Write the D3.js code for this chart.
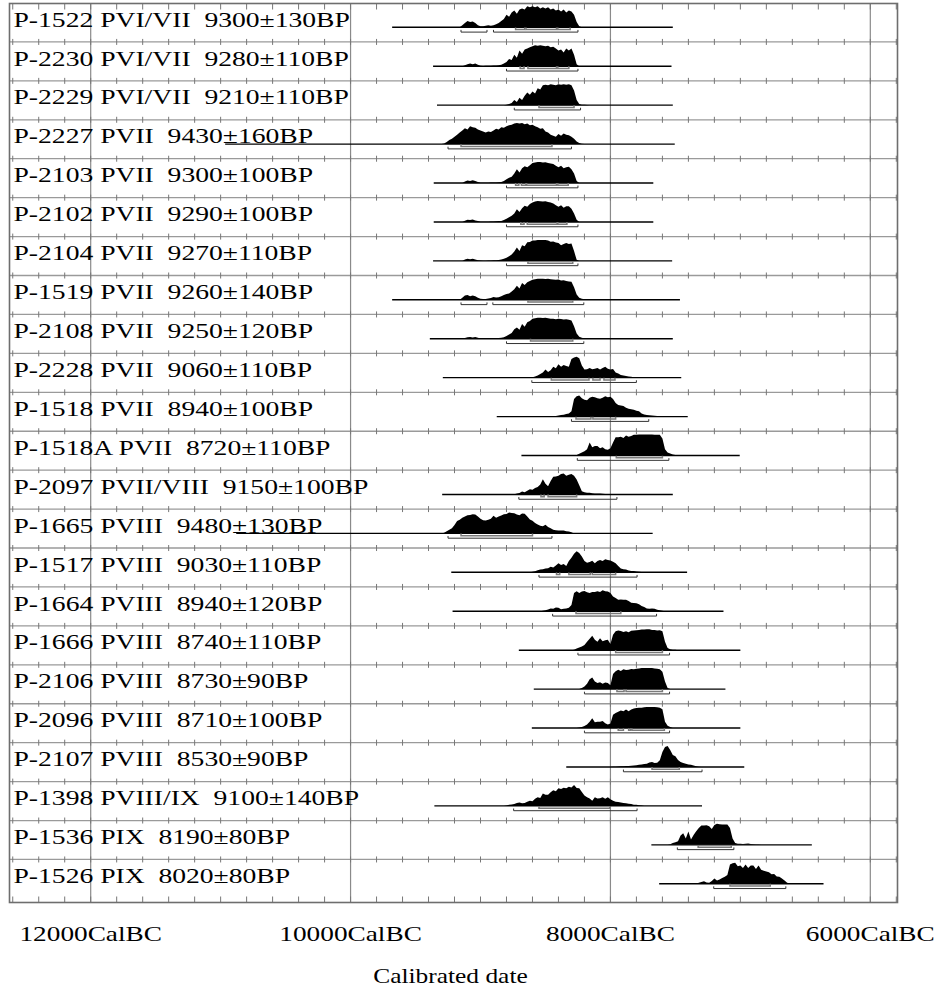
<!DOCTYPE html>
<html>
<head>
<meta charset="utf-8">
<script src="https://cdn.jsdelivr.net/npm/d3@7/dist/d3.min.js"></script>
<style>
    body { margin: 0; background: #fff; }
    text { font-family: "Liberation Serif", "Times New Roman", Times, serif; fill: #000; }
</style>
</head>
<body>
<div id="chart"></div>
<script>
// sample label, phase, BP date
var labels = [
    "P-1522 PVI/VII  9300\u00b1130BP",
    "P-2230 PVI/VII  9280\u00b1110BP",
    "P-2229 PVI/VII  9210\u00b1110BP",
    "P-2227 PVII  9430\u00b1160BP",
    "P-2103 PVII  9300\u00b1100BP",
    "P-2102 PVII  9290\u00b1100BP",
    "P-2104 PVII  9270\u00b1110BP",
    "P-1519 PVII  9260\u00b1140BP",
    "P-2108 PVII  9250\u00b1120BP",
    "P-2228 PVII  9060\u00b1110BP",
    "P-1518 PVII  8940\u00b1100BP",
    "P-1518A PVII  8720\u00b1110BP",
    "P-2097 PVII/VIII  9150\u00b1100BP",
    "P-1665 PVIII  9480\u00b1130BP",
    "P-1517 PVIII  9030\u00b1110BP",
    "P-1664 PVIII  8940\u00b1120BP",
    "P-1666 PVIII  8740\u00b1110BP",
    "P-2106 PVIII  8730\u00b190BP",
    "P-2096 PVIII  8710\u00b1100BP",
    "P-2107 PVIII  8530\u00b190BP",
    "P-1398 PVIII/IX  9100\u00b1140BP",
    "P-1536 PIX  8190\u00b180BP",
    "P-1526 PIX  8020\u00b180BP"
];

// extent of the plotted calibration line (cal BC)
var lineFrom = [9680, 9365, 9335, 10965, 9360, 9360, 9365, 9680, 9390, 9290, 8875, 8685,
                9295, 10880, 9225, 9215, 8705, 8590, 8605, 8340, 9355, 7685, 7625];
var lineTo = [7520, 7530, 7520, 7505, 7670, 7670, 7525, 7465, 7520, 7455, 7405, 7005,
              7520, 7675, 7410, 7130, 7000, 7115, 7000, 6970, 7295, 6450, 6360];

// first year of each probability curve, values every 20 years
var distStart = [9160, 9140, 8820, 9300, 9140, 9140, 9140, 9160, 9140, 8620, 8460, 8280,
                 8760, 9300, 8620, 8540, 8300, 8240, 8260, 8000, 8820, 7560, 7340];
var step = 20;

var p1522 = [0,2,4,6,5,5.5,4,2,1,1,1.5,2,1.5,2,3,4,6,8,12,10,14,16,13,17,18,17,20,19,20,19,20,18,19,18,19,17,18,16,17,15,17,14,16,15,12,5,1,0];
var p2230 = [0,1,2,2.5,2,2.5,1.5,0.5,0.3,0.5,0.5,0.5,0.7,0.8,1,1.5,2.5,4,7,6,11,8,15,12,16,17,18,19,20,19.5,20,19.5,19,19.5,18,18.5,17,15,16,13,17,15,17,11,2,0];
var p2229 = [0,0.5,1,2,5,3,7,5,9,12,10,13,11,16,15,19,19.5,19,20,19.5,19,20,19.5,20,19.5,20,19,14,5,1,0.3,0.3,0.2,0];
var p2227 = [0,0.5,2,4,5,7,9,11,13,15,14,17,16,15.5,14,13,12,11,12,11.5,13,14.5,14,16,15.5,17,18,18.5,19.5,20,19.5,20,19,19.5,18,18.5,17,16,14.5,15,12,11,9,8,7,9.5,8,10,9,8.5,7,5,2.5,1,0.3,0];
var p2103 = [0,1.5,2.5,2,2.7,2,1,0.3,0.2,0.3,0.3,0.5,0.5,0.6,0.8,1,2,3.5,5,6,9,13,10,14,16,15,17,19,19.5,20,20,19.5,19.7,19,18.5,18,16.5,15,16.5,14,15,15.5,13,9,2,0];
var p2102 = [0,1.2,2,1.8,2.3,1.5,0.8,0.3,0.2,0.2,0.3,0.4,0.5,0.6,0.8,1,1.8,3,4.5,6,8,12,9.5,13,15.5,14.5,17,18.5,19.5,20,19.8,19.5,19.8,19,18.5,17.5,16,14.5,16,13.5,15,15,12.5,8,2,0];
var p2104 = [0,1.2,2,1.5,2,1.2,0.5,0.3,0.2,0.2,0.3,0.4,0.5,0.6,0.8,1.2,2,3,4.5,6,9,12.7,9.5,15,14,17.7,18,19.3,19.5,20,20,19.8,20,19.5,18.3,18.5,17.5,17,15,16,17,16,16.5,9.3,1,0];
var p1519 = [0,2,4,4.7,3.5,4,3.5,2,1,0.8,0.8,1.2,1.8,2.7,2.2,2.5,3.5,4.5,5.5,6,8,10,13.3,10.7,16,14,16.7,18,19,19.5,20,20,20,19.8,20,19.5,19.3,19,19.3,18.5,18.7,18,17.5,17.3,12,5,2,1,0.5,0.3,0.3,0.2,0.2,0.2,0.1,0.1,0.1,0.1,0];
var p2108 = [0,0.8,1.5,1.7,1.3,1.6,1,0.3,0.2,0.2,0.3,0.4,0.5,0.6,0.8,1,1.5,2.5,4,5.5,9,10.7,8.5,14,11.5,15.7,17,19,19.5,20,20,19.8,20,19.5,19,19,18.5,19,18.7,18.3,18.5,18,17.3,12,5,2,1,0.3,0];
var p2228 = [0,0.5,1,2,3.5,5,7.7,5.5,7,10.3,9,12.7,10.5,12,11,10.5,17.7,19.3,20,18.5,11.7,7.7,8,9.3,8,8.5,9.3,7.7,9.3,10.3,8.5,7.7,8.3,5,4,2.5,2,1.5,1,0.8,0.5,0.3,0];
var p1518 = [0,0.3,0.5,1,1.5,1.7,2.5,3,5,16.7,19.3,20,17.5,16,15.5,18,19,18.5,17.5,17,18,19.5,18.5,19,16.7,13,11,10.5,10,8.5,7.5,7,6.5,5.5,5,3,2,1.5,1.2,1,0.8,0.5,0.3,0];
var p1518a = [0,0.5,1.7,3,4,6,12.3,8,9,9,7,8,6,5.5,7,12.3,17.3,17.5,18,16.7,19,18,18.5,19.7,19.8,20,20,20,20,20,20,19.8,19.8,19.7,16.3,6,3,2,1,0.5,0.2,0];
var p2097 = [0,0.3,1,1.3,2.7,2,3.5,5,4.5,6,7,9.3,14.3,10,7.7,12.7,16.7,17,17.7,19.3,19.8,17.7,18.5,19.3,17.7,14,8.7,3,2,1.7,1.5,1.2,1,1,0.8,0.6,0.5,0.4,0.3,0.2,0];
var p1665 = [0,0.5,2,3.5,5,8,11.7,13,15,16,17.3,17.5,18.3,18,16,14,12.5,12.3,13,14,16.7,15,16,17,18.3,18.5,20,19.5,19.3,18,17.3,19,18.7,16,13.3,12,10,8.5,7.3,6.7,8.3,6,5,3.5,3,2.7,2.7,2.7,2,1.7,1,0];
var p1517 = [0,0.5,1,2,2.7,3,3.7,4,5.3,4.7,6.5,8.7,7,8,6,11,14,18,20.3,18.7,15.3,11,9.3,10,11.3,8.7,11,12,11,12.7,12,11.5,10.3,8.7,6,3.7,3,2.7,1.8,1.3,1.2,0.8,0.6,0.4,0.2,0];
var p1664 = [0,0.5,1,1.7,2.7,2.5,3.7,3.3,2,2.3,2.7,3.5,6,17.7,19.3,17.7,19,19.5,18.3,17.7,18.7,18.7,19.3,18.5,20.3,19.3,19,17.7,14.3,12.7,11,11.3,11,11,10,8.3,8,7.7,6.7,5,4,2.7,2.5,2.7,2.3,1.5,1,0.5,0];
var p1666 = [0,0.5,1.5,2.5,3.5,5,8,11,13.7,10,8,11.3,8.5,9.5,10,6,14.7,18,18.7,18.3,17.3,18,17,18.5,18.7,19,19.3,19.7,19.7,20,20,19.3,19.3,18.7,19,18,8,2,1,0.5,0.3,0];
var p2106 = [0,1,2.5,5,9,10.7,7,5.7,6.3,5,6,5.7,3.5,14,16.5,17.7,16.7,18.3,17.5,17.7,18.5,18.3,18.8,19,19.3,19.3,19.3,19.3,19.3,19,18.7,18.3,16,7,1,0];
var p2096 = [0,0.5,1,2,3.3,6,9.3,5.5,6,6,6.7,4.5,3.3,4.3,12.7,14.3,15.5,16.7,16,17.7,16,17.7,18.7,19,19.3,19.3,19.7,20,20,20,20,19.7,19.3,18,6,2.3,1,0];
var p2107 = [0,0.2,0.3,0.4,0.6,0.7,0.8,1,1.2,1.3,1.5,2,2.3,2.7,3,4.3,4.7,3.7,4,6.3,14,18.7,19.7,16,11.3,10,6.5,4.7,3.7,3,2.3,2,1.3,0.7,0.3,0];
var p1398 = [0,0.5,1,1.3,1.7,2.7,3.3,2.5,2.7,4,5,4.5,6.7,8.3,7.5,11.7,10.7,10.7,13,15,14,16.7,16,17.3,16.7,18.3,17.5,20,17,16.7,13.3,10,8.3,7,5,8.3,7,7.3,8.3,6.7,8.3,6.3,5,4,3.7,3.3,2.7,2.5,2,1.7,1.2,1,0.7,0.3,0];
var p1536 = [0,0.5,1.7,2.5,3.3,9,11,6,12.7,5,9.3,13,16,18.3,18.5,18.7,17.7,15,19,20,19.7,19.3,19.3,19.3,16,6,1.7,1,1,0.7,1,1.3,0.7,0.5,0.3,0.3,0];
var p1526 = [0,1,1.7,2.5,1.2,1,2.7,5,3,4,5.5,6.7,8.3,18.3,19.5,20,16.7,17.3,15,18.3,15,17.5,17.3,14,17.3,13.3,12.5,11.7,11,9,9.3,7,6.7,5,3,1,0.3,0];

var dists = [p1522, p2230, p2229, p2227, p2103, p2102, p2104, p1519, p2108, p2228, p1518, p1518a,
             p2097, p1665, p1517, p1664, p1666, p2106, p2096, p2107, p1398, p1536, p1526];

// 68.2% and 95.4% ranges (cal BC)
var sigma1 = [
    [[8730,8660],[8650,8415],[8405,8310]],
    [[8695,8665],[8635,8415],[8405,8320]],
    [[8550,8280]],
    [[9150,8450]],
    [[8730,8705],[8685,8650],[8645,8415],[8405,8325]],
    [[8690,8665],[8640,8410],[8405,8335]],
    [[8635,8290]],
    [[8635,8290]],
    [[8615,8290]],
    [[8455,8165],[8135,8080],[8050,7965]],
    [[8265,8150],[8135,7960]],
    [[7955,7600]],
    [[8535,8510],[8480,8260]],
    [[9150,8600]],
    [[8415,8390],[8320,8155],[8140,7960]],
    [[8265,7920]],
    [[7960,7600]],
    [[7950,7895],[7880,7600]],
    [[7940,7900],[7860,7845],[7835,7585]],
    [[7680,7470]],
    [[8550,8005]],
    [[7325,7070]],
    [[7080,6770]]
];
var sigma2 = [
    [[9150,8950],[8900,8250]],
    [[8800,8250]],
    [[8740,8230]],
    [[9250,8300]],
    [[8800,8250]],
    [[8800,8250]],
    [[8800,8250]],
    [[9150,8950],[8905,8205]],
    [[8800,8205]],
    [[8605,7800]],
    [[8300,7705]],
    [[8255,7550]],
    [[8705,7950]],
    [[9250,8450]],
    [[8550,7795]],
    [[8445,7645]],
    [[8250,7545]],
    [[8200,7545]],
    [[8200,7545]],
    [[7900,7295]],
    [[8745,7795]],
    [[7485,7050]],
    [[7205,6650]]
];

var axisYears = [12000, 10000, 8000, 6000];
var axisLabels = ["12000CalBC", "10000CalBC", "8000CalBC", "6000CalBC"];
var axisTitle = "Calibrated date";

var width = 938, height = 992;
var frame = {left: 9.5, right: 897.5, top: 3.5, bottom: 902.5};
var rowH = 38.93;
var serif = "'Liberation Serif', 'Times New Roman', Times, serif";

var x = d3.scaleLinear().domain([12000, 6000]).range([90.7, 870.3]);
var row = d3.scaleBand()
    .domain(d3.range(labels.length))
    .range([3, 3 + rowH * labels.length]);

var svg = d3.select("#chart").append("svg")
    .attr("width", width)
    .attr("height", height);

// grid: row separators and major year lines
var grid = svg.append("g").attr("stroke", "#9a9a9a").attr("fill", "none");
d3.range(1, labels.length).forEach(function(i){
    grid.append("line")
        .attr("x1", frame.left).attr("x2", frame.right)
        .attr("y1", row(i)).attr("y2", row(i))
        .attr("stroke-width", 1.3);
});
axisYears.forEach(function(yr){
    grid.append("line")
        .attr("x1", x(yr)).attr("x2", x(yr))
        .attr("y1", frame.top).attr("y2", frame.bottom)
        .attr("stroke", "#8a8a8a")
        .attr("stroke-width", 1.2);
});

// small ticks every 200 years on each separator
var tickYears = d3.range(12600, 5700, -200).filter(function(yr){
    return x(yr) > frame.left && x(yr) < frame.right;
});
var ticks = svg.append("g").attr("stroke", "#777").attr("stroke-width", 1);
tickYears.forEach(function(yr){
    ticks.append("line")
        .attr("x1", x(yr)).attr("x2", x(yr))
        .attr("y1", frame.top).attr("y2", frame.top + 6);
    d3.range(1, labels.length).forEach(function(i){
        ticks.append("line")
            .attr("x1", x(yr)).attr("x2", x(yr))
            .attr("y1", row(i) - 3).attr("y2", row(i) + 3);
    });
    ticks.append("line")
        .attr("x1", x(yr)).attr("x2", x(yr))
        .attr("y1", frame.bottom - 6).attr("y2", frame.bottom);
});

svg.append("rect")
    .attr("x", frame.left).attr("y", frame.top)
    .attr("width", frame.right - frame.left)
    .attr("height", frame.bottom - frame.top)
    .attr("fill", "none")
    .attr("stroke", "#6e6e6e")
    .attr("stroke-width", 1.6);

// row labels
svg.append("g").selectAll("text")
    .data(labels)
    .enter().append("text")
    .attr("transform", function(d, i){
        return "translate(13.5," + (row(i) + 23.6) + ") scale(1.315,1)";
    })
    .style("font-family", serif)
    .style("font-size", "21px")
    .style("white-space", "pre")
    .text(function(d){ return d; });

function bracket(r, y){
    return "M" + x(r[0]) + "," + (y - 2.2) + "V" + y + "H" + x(r[1]) + "V" + (y - 2.2);
}

dists.forEach(function(vals, i){
    var base = row(i) + 24.3;
    var h = d3.scaleLinear().domain([0, d3.max(vals)]).range([0, 21]);
    var pts = vals.map(function(v, k){
        return {year: distStart[i] - k * step, p: v};
    });

    var area = d3.area()
        .x(function(d){ return x(d.year); })
        .y0(base)
        .y1(function(d){ return base - h(d.p); });

    var g = svg.append("g");
    g.append("path")
        .datum(pts)
        .attr("fill", "#000")
        .attr("d", area);

    g.append("line")
        .attr("x1", x(lineFrom[i])).attr("x2", x(lineTo[i]))
        .attr("y1", base).attr("y2", base)
        .attr("stroke", "#000")
        .attr("stroke-width", 1.4);

    sigma1[i].forEach(function(r){
        g.append("path")
            .attr("d", bracket(r, base + 2.3))
            .attr("fill", "none")
            .attr("stroke", "#7a7a7a")
            .attr("stroke-width", 1.5);
    });
    sigma2[i].forEach(function(r){
        g.append("path")
            .attr("d", bracket(r, base + 4.8))
            .attr("fill", "none")
            .attr("stroke", "#333")
            .attr("stroke-width", 1);
    });
});

// x axis labels
svg.append("g").selectAll("text")
    .data(axisYears)
    .enter().append("text")
    .attr("transform", function(d){
        return "translate(" + x(d) + ",941) scale(1.3,1)";
    })
    .attr("text-anchor", "middle")
    .style("font-family", serif)
    .style("font-size", "21px")
    .text(function(d, i){ return axisLabels[i]; });

svg.append("text")
    .attr("transform", "translate(" + ((frame.left + frame.right) / 2 - 3) + ",983) scale(1.21,1)")
    .attr("text-anchor", "middle")
    .style("font-family", serif)
    .style("font-size", "21px")
    .text(axisTitle);
</script>
</body>
</html>
